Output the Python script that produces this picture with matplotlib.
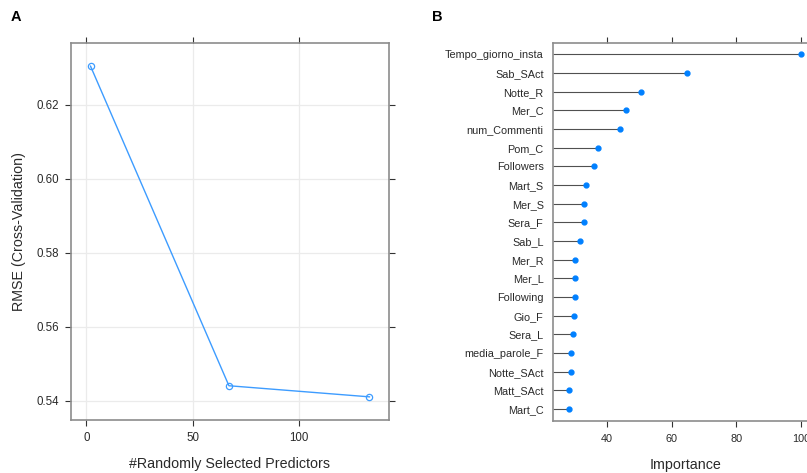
import matplotlib
matplotlib.use("Agg")
import matplotlib.pyplot as plt
import numpy as np

plt.rcParams['font.family'] = ['Liberation Sans', 'DejaVu Sans']

# Panel A data
mtry = [2, 67, 133]
rmse = [0.6304, 0.5441, 0.5411]
a_xticks = [0, 50, 100]
a_yticks = [0.54, 0.56, 0.58, 0.60, 0.62]

# Panel B data (top to bottom)
features = ["Tempo_giorno_insta", "Sab_SAct", "Notte_R", "Mer_C", "num_Commenti",
            "Pom_C", "Followers", "Mart_S", "Mer_S", "Sera_F", "Sab_L", "Mer_R",
            "Mer_L", "Following", "Gio_F", "Sera_L", "media_parole_F",
            "Notte_SAct", "Matt_SAct", "Mart_C"]
importance = [100.0, 64.9, 50.6, 45.9, 44.0, 37.5, 36.2, 33.5, 33.0, 32.9,
              31.7, 30.4, 30.4, 30.4, 30.0, 29.6, 29.1, 29.0, 28.5, 28.4]
b_xticks = [40, 60, 80, 100]

W, H = 807, 473
fig = plt.figure(figsize=(W / 100, H / 100), dpi=100)

blue = "#0080ff"
line_blue = "#3d9cff"
frame_col = "#8c8c8c"
tick_col = "#333333"

def padlim(v, prop=0.07):
    lo, hi = min(v), max(v)
    d = hi - lo
    return lo - prop * d, hi + prop * d

# ---------- Panel A ----------
axA = fig.add_axes([71 / W, 1 - 420 / H, (389 - 71) / W, (420 - 43) / H])
axA.plot(mtry, rmse, color=line_blue, lw=1.0, marker='o', mfc='none', mec=line_blue,
         ms=4.5, mew=0.9, zorder=3)
axA.set_xlim(*padlim(mtry))
axA.set_ylim(*padlim(rmse))
axA.set_xticks(a_xticks)
axA.set_yticks(a_yticks)
axA.set_yticklabels([f"{v:.2f}" for v in a_yticks])
axA.grid(True, color="#ebebeb", lw=0.9, zorder=0)
axA.set_axisbelow(True)
for s in axA.spines.values():
    s.set_color(frame_col)
    s.set_linewidth(1.2)
axA.tick_params(axis='both', which='both', direction='out', length=4.3, width=0.8,
                color=tick_col, labelsize=8.3, labelcolor="#2a2a2a",
                top=True, right=True, labeltop=False, labelright=False, pad=4)
axA.set_xlabel("#Randomly Selected Predictors", fontsize=10.3, color="#2a2a2a", labelpad=10)
axA.set_ylabel("RMSE (Cross-Validation)", fontsize=10.3, color="#2a2a2a", labelpad=8)

fig.text(10.5 / W, 1 - 21 / H, "A", fontsize=10.5, fontweight='bold', ha='left', va='baseline')

# ---------- Panel B ----------
xl = padlim(importance)
left_px = 552.7
px_per_unit = (800.7 - 606.0) / 60.0
right_px = left_px + (xl[1] - xl[0]) * px_per_unit
axB = fig.add_axes([left_px / W, 1 - 420.7 / H, (right_px - left_px) / W, (420.7 - 42.7) / H])
n = len(features)
ypos = np.arange(n, 0, -1)
axB.hlines(ypos, xl[0], importance, color="#505050", lw=0.8, zorder=2)
axB.plot(importance, ypos, 'o', color=blue, ms=3.5, mec=blue, zorder=3, clip_on=False)
axB.set_xlim(*xl)
axB.set_ylim(0.38, n + 0.62)
axB.set_xticks(b_xticks)
axB.set_yticks(ypos)
axB.set_yticklabels(features)
for s in axB.spines.values():
    s.set_color(frame_col)
    s.set_linewidth(1.2)
axB.tick_params(axis='x', direction='out', length=4.3, width=0.8, color=tick_col,
                labelsize=7.8, labelcolor="#2a2a2a", top=True, labeltop=False, pad=5)
axB.tick_params(axis='y', length=0, labelsize=7.8, labelcolor="#2a2a2a", pad=6.5)
axB.set_xlabel("Importance", fontsize=10.3, color="#2a2a2a", labelpad=10)

fig.text(431.5 / W, 1 - 21 / H, "B", fontsize=10.5, fontweight='bold', ha='left', va='baseline')

fig.savefig("out.png", dpi=100)
